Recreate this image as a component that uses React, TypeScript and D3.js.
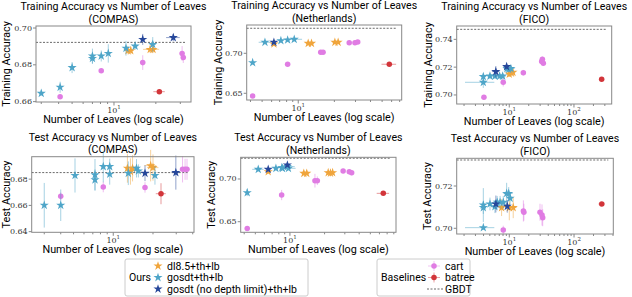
import React from 'react'
import * as d3 from 'd3'

// point = [leaves, accuracy, yErr, xErr]
type Pt = [number, number, number, number]

// ---- COMPAS, training
const compasTrainGosdt: Pt[] = [[3.0, 0.6645, 0.001, 0], [4.1, 0.6678, 0.003, 0], [5.0, 0.6785, 0.003, 0], [7.0, 0.6848, 0.004, 0], [7.0, 0.6835, 0.003, 0], [8.1, 0.6848, 0.003, 0], [9.1, 0.6862, 0.005, 0], [12.2, 0.689, 0.004, 0], [14.2, 0.6902, 0.002, 0.5], [19.0, 0.6911, 0.004, 1]]
const compasTrainDl85: Pt[] = [[12.6, 0.6877, 0.002, 0.6], [13.2, 0.6877, 0.002, 0.6], [18.2, 0.6884, 0.002, 2], [19.1, 0.6884, 0.002, 2]]
const compasTrainGosdtNd: Pt[] = [[16.1, 0.6938, 0.003, 0.5], [26.7, 0.6948, 0.002, 3]]
const compasTrainCart: Pt[] = [[4.1, 0.6627, 0, 0], [8.1, 0.6768, 0, 0], [16.1, 0.6812, 0.004, 0], [30.9, 0.6862, 0.004, 0.5], [31.5, 0.684, 0.003, 0.5]]
const compasTrainBatree: Pt[] = [[21.2, 0.6654, 0.0005, 2]]
const compasTrainGbdt = 0.6922

// ---- Netherlands, training
const nethTrainGosdt: Pt[] = [[4.17, 0.6883, 0.001, 0], [5.28, 0.7138, 0.001, 0.6], [7.17, 0.7158, 0.001, 0], [8.16, 0.7167, 0.001, 0], [9.26, 0.7175, 0.001, 1.5]]
const nethTrainDl85: Pt[] = [[6.27, 0.7117, 0.001, 0], [12.1, 0.7125, 0.001, 0.5], [12.9, 0.7125, 0.001, 0.5], [20.2, 0.7138, 0.001, 1], [21.5, 0.7138, 0.001, 1]]
const nethTrainGosdtNd: Pt[] = [[6.27, 0.7138, 0.001, 0]]
const nethTrainCart: Pt[] = [[4.17, 0.6467, 0, 0], [8.16, 0.6863, 0, 0], [15.4, 0.7013, 0.001, 0.4], [16.1, 0.7013, 0.001, 0.4], [26.6, 0.7133, 0, 0], [29.7, 0.7133, 0, 0], [31.3, 0.7142, 0, 0]]
const nethTrainBatree: Pt[] = [[57.4, 0.6863, 0.001, 8]]
const nethTrainGbdt = 0.7313

// ---- FICO, training
const ficoTrainGosdt: Pt[] = [[3.97, 0.7091, 0.004, 1.9], [3.97, 0.7132, 0.002, 0], [5.03, 0.7136, 0.002, 0.5], [6.0, 0.7136, 0.002, 0.8], [7.1, 0.7136, 0.002, 1], [7.9, 0.7136, 0.002, 1], [9.2, 0.719, 0.002, 1], [9.8, 0.7185, 0.002, 1.5], [10.6, 0.719, 0.002, 1.5]]
const ficoTrainDl85: Pt[] = [[10.0, 0.715, 0.002, 1], [10.8, 0.7158, 0.002, 1.5], [11.4, 0.7163, 0.002, 1]]
const ficoTrainGosdtNd: Pt[] = [[6.2, 0.7168, 0.004, 0.8], [9.1, 0.7204, 0.002, 1]]
const ficoTrainCart: Pt[] = [[4.06, 0.6983, 0, 0], [8.07, 0.7091, 0.003, 0], [16.5, 0.716, 0.002, 0.5], [31.7, 0.724, 0.002, 1], [32.5, 0.7256, 0.002, 1], [33.6, 0.7228, 0.002, 1]]
const ficoTrainBatree: Pt[] = [[268, 0.7113, 0.0005, 20]]
const ficoTrainGbdt = 0.7472

// ---- COMPAS, test
const compasTestGosdt: Pt[] = [[3.0, 0.6601, 0.017, 0], [4.0, 0.6601, 0.012, 0], [5.13, 0.6828, 0.013, 0], [7.27, 0.6833, 0.012, 0], [7.27, 0.6795, 0.008, 0], [8.4, 0.6896, 0.012, 0], [9.4, 0.6838, 0.008, 0], [9.4, 0.6896, 0.006, 0], [13.0, 0.6845, 0.009, 0], [15.0, 0.6883, 0.007, 0], [15.5, 0.6863, 0.005, 0], [20.7, 0.6828, 0.007, 0]]
const compasTestDl85: Pt[] = [[12.8, 0.6883, 0.011, 0.5], [13.5, 0.6858, 0.01, 0.5], [14.0, 0.6883, 0.01, 0.5], [19.2, 0.6903, 0.012, 2], [20.0, 0.6888, 0.01, 2]]
const compasTestGosdtNd: Pt[] = [[17.4, 0.6845, 0.006, 0], [29.8, 0.685, 0.013, 2]]
const compasTestCart: Pt[] = [[4.0, 0.6669, 0.003, 0], [8.4, 0.674, 0.004, 0], [17.4, 0.6737, 0.004, 0], [33.5, 0.6875, 0.01, 1], [35.0, 0.6875, 0.008, 0], [36.2, 0.6875, 0.008, 0]]
const compasTestBatree: Pt[] = [[23.0, 0.6689, 0.008, 2]]
const compasTestGbdt = 0.685

// ---- Netherlands, test
const nethTestGosdt: Pt[] = [[4.25, 0.684, 0.004, 0], [5.3, 0.7113, 0.002, 0.6], [7.55, 0.7125, 0.002, 0], [8.5, 0.7133, 0.002, 0], [8.6, 0.7125, 0.002, 0], [9.5, 0.7145, 0.002, 1.5], [9.7, 0.7125, 0.002, 1.5]]
const nethTestDl85: Pt[] = [[6.47, 0.7086, 0.001, 0], [13.2, 0.7066, 0.002, 0], [14.0, 0.7066, 0.002, 0], [21.5, 0.7074, 0.002, 1], [22.5, 0.707, 0.002, 1], [23.5, 0.7074, 0.002, 1]]
const nethTestGosdtNd: Pt[] = [[6.47, 0.7113, 0.002, 0], [9.5, 0.7164, 0.002, 0]]
const nethTestCart: Pt[] = [[4.25, 0.6421, 0, 0], [8.47, 0.6812, 0.006, 0], [16.5, 0.698, 0.008, 0.5], [17.3, 0.698, 0.005, 0.5], [29, 0.7094, 0.001, 0], [32.8, 0.7086, 0.002, 0], [34.4, 0.7074, 0.003, 0]]
const nethTestBatree: Pt[] = [[64.8, 0.6832, 0.001, 8]]
const nethTestGbdt = 0.7243

// ---- FICO, test
const ficoTestGosdt: Pt[] = [[3.97, 0.7003, 0.001, 1.9], [3.97, 0.711, 0.008, 0], [3.97, 0.7098, 0.003, 0], [5.03, 0.7115, 0.003, 0], [6.0, 0.7102, 0.003, 0.8], [6.5, 0.7123, 0.003, 0], [7.2, 0.7123, 0.003, 0], [8.07, 0.7123, 0.003, 1], [9.1, 0.7165, 0.005, 1], [9.8, 0.7165, 0.003, 1.5], [10.3, 0.7142, 0.003, 1]]
const ficoTestDl85: Pt[] = [[7.6, 0.7098, 0.004, 0], [10.0, 0.7098, 0.006, 0], [11.5, 0.7098, 0.005, 1.5]]
const ficoTestGosdtNd: Pt[] = [[6.2, 0.7115, 0.004, 0], [9.3, 0.7104, 0.003, 0]]
const ficoTestCart: Pt[] = [[8.07, 0.6992, 0.002, 0], [16.5, 0.7082, 0.005, 0], [16.8, 0.7076, 0.004, 0], [29.8, 0.7076, 0.004, 0], [32, 0.7063, 0.005, 0], [32.8, 0.705, 0.004, 0]]
const ficoTestBatree: Pt[] = [[268, 0.7115, 0.0005, 30]]
const ficoTestGbdt = 0.7323

const colors = {
  dl85: '#f0a53c',
  gosdt: '#4ea5c8',
  gosdtNd: '#26479a',
  cart: '#e07ce3',
  batree: '#d2353a',
}

const panels = [
  { title: 'Training Accuracy vs Number of Leaves', ds: '(COMPAS)', ylab: 'Training Accuracy', l: 36, t: 26, r: 191, b: 102, xd: [2.75, 35.8], yd: [0.6598, 0.7011], yt: [0.66, 0.68, 0.70], ylx: 6,
    gosdt: compasTrainGosdt, dl85: compasTrainDl85, gosdtNd: compasTrainGosdtNd, cart: compasTrainCart, batree: compasTrainBatree, gbdt: compasTrainGbdt },
  { title: 'Training Accuracy vs Number of Leaves', ds: '(Netherlands)', ylab: 'Training Accuracy', l: 246.7, t: 25, r: 401.7, b: 100, xd: [3.72, 72.8], yd: [0.6416, 0.7354], yt: [0.65, 0.70], ylx: 218,
    gosdt: nethTrainGosdt, dl85: nethTrainDl85, gosdtNd: nethTrainGosdtNd, cart: nethTrainCart, batree: nethTrainBatree, gbdt: nethTrainGbdt },
  { title: 'Training Accuracy vs Number of Leaves', ds: '(FICO)', ylab: 'Training Accuracy', l: 456.7, t: 26, r: 611.7, b: 104, xd: [1.54, 383], yd: [0.6935, 0.7496], yt: [0.70, 0.72, 0.74], ylx: 428,
    gosdt: ficoTrainGosdt, dl85: ficoTrainDl85, gosdtNd: ficoTrainGosdtNd, cart: ficoTrainCart, batree: ficoTrainBatree, gbdt: ficoTrainGbdt },
  { title: 'Test Accuracy vs Number of Leaves', ds: '(COMPAS)', ylab: 'Test Accuracy', l: 31.7, t: 156.7, r: 194, b: 232.3, xd: [2.41, 40.9], yd: [0.6395, 0.6971], yt: [0.64, 0.66, 0.68], ylx: 6,
    gosdt: compasTestGosdt, dl85: compasTestDl85, gosdtNd: compasTestGosdtNd, cart: compasTestCart, batree: compasTestBatree, gbdt: compasTestGbdt },
  { title: 'Test Accuracy vs Number of Leaves', ds: '(Netherlands)', ylab: 'Test Accuracy', l: 240.7, t: 157.3, r: 396, b: 232.3, xd: [3.73, 83.6], yd: [0.6376, 0.7254], yt: [0.65, 0.70], ylx: 211,
    gosdt: nethTestGosdt, dl85: nethTestDl85, gosdtNd: nethTestGosdtNd, cart: nethTestCart, batree: nethTestBatree, gbdt: nethTestGbdt },
  { title: 'Test Accuracy vs Number of Leaves', ds: '(FICO)', ylab: 'Test Accuracy', l: 456.7, t: 158.3, r: 613.3, b: 234, xd: [1.54, 404], yd: [0.6973, 0.7331], yt: [0.70, 0.72], ylx: 427,
    gosdt: ficoTestGosdt, dl85: ficoTestDl85, gosdtNd: ficoTestGosdtNd, cart: ficoTestCart, batree: ficoTestBatree, gbdt: ficoTestGbdt },
]

const sans = 'Roboto, "DejaVu Sans", sans-serif'
const serif = '"DejaVu Serif", serif'
const starPath = d3.symbol(d3.symbolStar, 26)()!
const dotPath = d3.symbol(d3.symbolCircle, 24)()!

function Series({ pts, x, y, color, marker }: { pts: Pt[]; x: any; y: any; color: string; marker: string }) {
  return (
    <g>
      {pts.map((p, i) => (
        <g key={'e' + i} stroke={color} strokeOpacity={0.5} strokeWidth={1}>
          {p[2] > 0 && <line x1={x(p[0])} x2={x(p[0])} y1={y(p[1] - p[2])} y2={y(p[1] + p[2])} />}
          {p[3] > 0 && <line x1={x(p[0] - p[3])} x2={x(p[0] + p[3])} y1={y(p[1])} y2={y(p[1])} />}
        </g>
      ))}
      {pts.map((p, i) => (
        <path key={'m' + i} d={marker} transform={`translate(${x(p[0])},${y(p[1])})`} fill={color} />
      ))}
    </g>
  )
}

function Panel({ p }: { p: typeof panels[number] }) {
  const x = d3.scaleLog().domain(p.xd).range([p.l, p.r])
  const y = d3.scaleLinear().domain(p.yd).range([p.b, p.t])
  const cx = (p.l + p.r) / 2
  const cy = (p.t + p.b) / 2
  const xt = x.ticks()
  const fmt = d3.format('.2f')
  return (
    <g>
      <text x={cx} y={p.t - 16} textAnchor="middle" fontFamily={sans} fontSize={10.6}>{p.title}</text>
      <text x={cx} y={p.t - 3.5} textAnchor="middle" fontFamily={sans} fontSize={10.6}>{p.ds}</text>
      <text transform={`translate(${p.ylx},${cy}) rotate(-90)`} textAnchor="middle" dominantBaseline="central" fontFamily={sans} fontSize={10.8}>{p.ylab}</text>
      <text x={cx} y={p.b + 21} textAnchor="middle" fontFamily={sans} fontSize={10.8}>Number of Leaves (log scale)</text>
      {xt.map((v, i) => {
        const e = Math.log10(v)
        const major = Math.abs(e - Math.round(e)) < 1e-9
        return (
          <g key={i}>
            <line x1={x(v)} x2={x(v)} y1={p.b} y2={p.b + (major ? 3.5 : 2)} stroke="#555" strokeWidth={0.7} />
            {major && (
              <text x={x(v)} y={p.b + 10.5} textAnchor="middle" fontFamily={serif} fontSize={8} fill="#333">
                10<tspan dy={-3.5} fontSize={5.5}>{Math.round(e)}</tspan>
              </text>
            )}
          </g>
        )
      })}
      {p.yt.map((v, i) => (
        <g key={i}>
          <line x1={p.l - 3} x2={p.l} y1={y(v)} y2={y(v)} stroke="#555" strokeWidth={0.7} />
          <text x={p.l - 4} y={y(v)} textAnchor="end" dominantBaseline="central" fontFamily={serif} fontSize={8} fill="#333">{fmt(v)}</text>
        </g>
      ))}
      <line x1={p.l} x2={p.r - 5} y1={y(p.gbdt)} y2={y(p.gbdt)} stroke="#444" strokeWidth={0.8} strokeDasharray="2,1.5" />
      <Series pts={p.cart} x={x} y={y} color={colors.cart} marker={dotPath} />
      <Series pts={p.batree} x={x} y={y} color={colors.batree} marker={dotPath} />
      <Series pts={p.dl85} x={x} y={y} color={colors.dl85} marker={starPath} />
      <Series pts={p.gosdt} x={x} y={y} color={colors.gosdt} marker={starPath} />
      <Series pts={p.gosdtNd} x={x} y={y} color={colors.gosdtNd} marker={starPath} />
      <rect x={p.l} y={p.t} width={p.r - p.l} height={p.b - p.t} fill="none" stroke="#888" strokeWidth={1} />
    </g>
  )
}

const oursLabels = ['dl8.5+th+lb', 'gosdt+th+lb', 'gosdt (no depth limit)+th+lb']
const oursColors = [colors.dl85, colors.gosdt, colors.gosdtNd]
const baseLabels = ['cart', 'batree', 'GBDT']

export default function App() {
  const rows = [266, 277.5, 289]
  return (
    <svg width={632} height={297} style={{ position: 'absolute', left: 0, top: 0, background: '#fff' }}>
      {panels.map((p, i) => <Panel key={i} p={p} />)}
      <rect x={125} y={259} width={183} height={37} fill="none" stroke="#ccc" rx={2} />
      <text x={129} y={rows[1]} dominantBaseline="central" fontFamily={sans} fontSize={10.5}>Ours</text>
      {oursLabels.map((s, i) => (
        <g key={i}>
          <path d={starPath} transform={`translate(158,${rows[i]})`} fill={oursColors[i]} />
          <text x={167} y={rows[i]} dominantBaseline="central" fontFamily={sans} fontSize={10.5}>{s}</text>
        </g>
      ))}
      <rect x={377} y={259} width={93} height={37} fill="none" stroke="#ccc" rx={2} />
      <text x={381} y={rows[1]} dominantBaseline="central" fontFamily={sans} fontSize={10.5}>Baselines</text>
      {baseLabels.map((s, i) => (
        <g key={i}>
          {i < 2 ? (
            <g>
              <g stroke={i === 0 ? colors.cart : colors.batree} strokeOpacity={0.45}>
                <line x1={428} x2={440} y1={rows[i]} y2={rows[i]} />
                <line x1={434} x2={434} y1={rows[i] - 5} y2={rows[i] + 5} />
              </g>
              <path d={dotPath} transform={`translate(434,${rows[i]})`} fill={i === 0 ? colors.cart : colors.batree} />
            </g>
          ) : (
            <line x1={427} x2={443} y1={rows[i]} y2={rows[i]} stroke="#444" strokeWidth={0.8} strokeDasharray="2,1.5" />
          )}
          <text x={445} y={rows[i]} dominantBaseline="central" fontFamily={sans} fontSize={10.5}>{s}</text>
        </g>
      ))}
    </svg>
  )
}
